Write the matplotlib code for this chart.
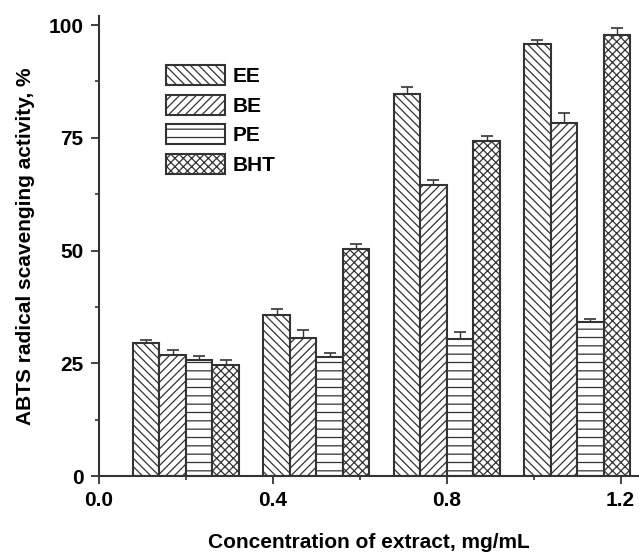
import matplotlib
matplotlib.use("Agg")
import matplotlib.pyplot as plt
import numpy as np

plt.rcParams['font.family'] = ['Liberation Sans', 'DejaVu Sans']
plt.rcParams['font.weight'] = 'bold'
plt.rcParams['patch.force_edgecolor'] = True
plt.rcParams['patch.edgecolor'] = '#333333'
plt.rcParams['hatch.color'] = '#8a8a8a'
plt.rcParams['hatch.linewidth'] = 0.9

group_centers = [0.2, 0.5, 0.8, 1.1]
series = ['EE', 'BE', 'PE', 'BHT']
EE = [29.4, 35.8, 84.7, 95.7]
BE = [26.8, 30.7, 64.5, 78.3]
PE = [25.7, 26.3, 30.4, 34.1]
BHT = [24.7, 50.4, 74.3, 97.7]
EE_err = [0.8, 1.3, 1.5, 1.0]
BE_err = [1.2, 1.6, 1.1, 2.1]
PE_err = [1.0, 0.9, 1.5, 0.7]
BHT_err = [1.0, 1.1, 1.0, 1.6]
x_ticks = [0.0, 0.4, 0.8, 1.2]
y_ticks = [0, 25, 50, 75, 100]

values = [EE, BE, PE, BHT]
errors = [EE_err, BE_err, PE_err, BHT_err]
hatches = ['\\\\\\\\', '////', '--', 'xxxx']

fig = plt.figure(figsize=(6.39, 5.53), dpi=100)
ax = fig.add_axes([99/639, 77/553, 539/639, 460/553])

w = 0.061
centers = np.array(group_centers)
for i, (name, vals, errs, h) in enumerate(zip(series, values, errors, hatches)):
    xs = centers + (i - 1.5) * w
    ax.bar(xs, vals, width=w, facecolor='white', hatch=h, linewidth=1.5,
           label=name, zorder=2)
    ax.errorbar(xs, vals, yerr=[np.zeros(len(errs)), errs], fmt='none',
                ecolor='#333333', elinewidth=1.0, capsize=4, capthick=1.2, zorder=3)

ax.set_xlim(0, 1.24)
ax.set_ylim(0, 102)
ax.set_xticks(x_ticks)
ax.set_xticklabels([f'{v:.1f}' for v in x_ticks])
ax.set_xticks([0.2, 0.6, 1.0], minor=True)
ax.set_yticks(y_ticks)
ax.set_yticks([12.5, 37.5, 62.5, 87.5], minor=True)

for s in ['top', 'right']:
    ax.spines[s].set_visible(False)
for s in ['left', 'bottom']:
    ax.spines[s].set_linewidth(1.5)
    ax.spines[s].set_color('#333333')

ax.tick_params(which='major', length=6, width=1.3, color='#333333', labelsize=15, pad=5)
ax.tick_params(which='minor', length=3, width=1.2, color='#333333')

ax.set_xlabel('Concentration of extract, mg/mL', fontsize=15, fontweight='bold', labelpad=16)
ax.set_ylabel('ABTS radical scavenging activity, %', fontsize=15, fontweight='bold', labelpad=10)

leg = ax.legend(loc='upper left', bbox_to_anchor=(166/639, 1 - 65/553),
                bbox_transform=fig.transFigure, frameon=False, fontsize=15,
                handlelength=2.85, handleheight=1.12, labelspacing=0.4,
                handletextpad=0.35, borderpad=0, borderaxespad=0)
for t in leg.get_texts():
    t.set_fontweight('bold')

fig.savefig('out.png', dpi=100)
